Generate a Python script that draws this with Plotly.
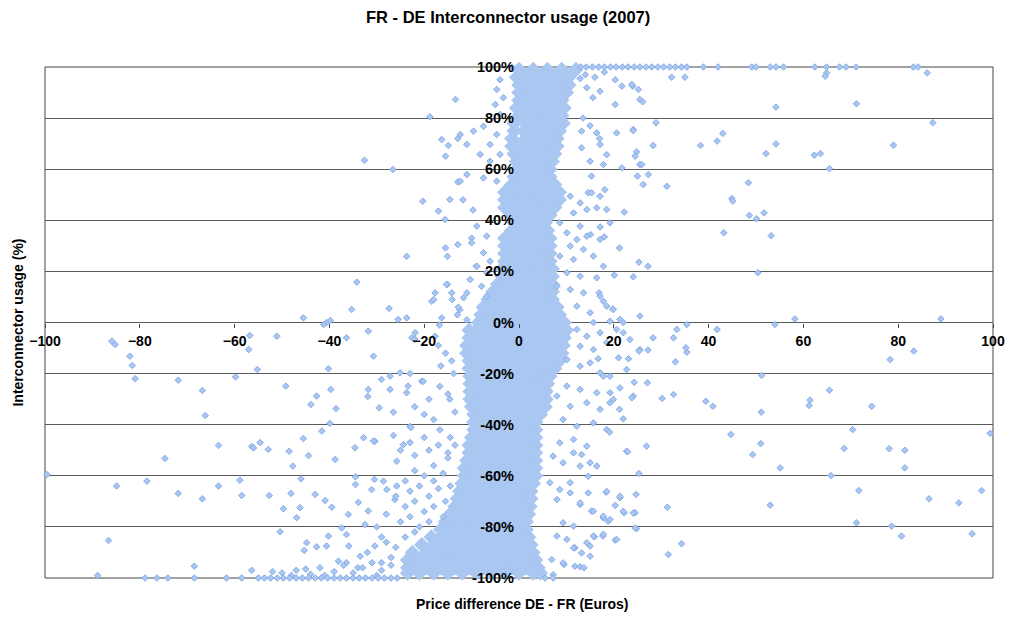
import plotly.graph_objects as go

# ---------------- data ----------------
# dense central band: one list of x positions per usage level (%)
core_levels = [99, 96, 93, 90, 87, 84, 81, 78, 75, 72, 69, 66, 63, 60, 57, 54, 51, 48, 45, 42,
               39, 36, 33, 30, 27, 24, 21, 18, 15, 12, 9, 6, 3, 0, -3, -6, -9, -12, -15, -18,
               -21, -24, -27, -30, -33, -36, -39, -42, -45, -48, -51, -54, -57, -60, -63, -66,
               -69, -72, -75, -78, -81, -84, -87, -90, -93, -96, -98]
core_rows = [
    [0, 3, 6, 9, 12],
    [-0.5, 1.5, 4.5, 7.5, 10.5],
    [0, 3, 6, 9, 10.5],
    [0, 1.5, 4.5, 7.5, 10],
    [0, 3, 6, 9],
    [-0.5, 1.5, 4.5, 7.5, 9.5],
    [0, 3, 6, 9],
    [-1, 1.5, 4.5, 7.5, 9.3],
    [-1, 1, 3, 6, 8.5],
    [-1.5, 1.5, 4.5, 7.5, 8],
    [-1.5, 0, 3, 6, 8],
    [-1, 1.5, 4.5, 7.5],
    [-0.5, 0, 3, 6, 7],
    [-0.5, 1.5, 4.5, 6.5],
    [-1, 0, 3, 6, 6.5],
    [-1.5, 1.5, 4.5, 7.5],
    [-3, 0, 3, 6, 8.5],
    [-3, -1.5, 1.5, 4.5, 7.5, 8.5],
    [-3, 0, 3, 6, 7.5],
    [-1.5, 1.5, 4.5, 6.5],
    [-1, 0, 3, 5.5],
    [-1.5, 1.5, 4.5, 6],
    [-3, 0, 3, 6, 6.5],
    [-3, -1.5, 1.5, 4.5, 6.5],
    [-3, 0, 3, 6, 6.5],
    [-3, -1.5, 1.5, 4.5, 6.5],
    [-3.5, -3, 0, 3, 6, 7],
    [-3.5, -1.5, 1.5, 4.5, 7],
    [-4.5, -3, 0, 3, 6, 7],
    [-5.5, -4.5, -1.5, 1.5, 4.5, 7],
    [-6.5, -6, -3, 0, 3, 6, 7],
    [-7.5, -4.5, -1.5, 1.5, 4.5, 7.5, 8],
    [-8, -6, -3, 0, 3, 6, 8.5],
    [-8.5, -7.5, -4.5, -1.5, 1.5, 4.5, 7.5, 9.5],
    [-10.5, -9, -6, -3, 0, 3, 6, 9, 10],
    [-10.5, -7.5, -4.5, -1.5, 1.5, 4.5, 7.5, 9.5],
    [-11, -9, -6, -3, 0, 3, 6, 9, 9.3],
    [-11, -10.5, -7.5, -4.5, -1.5, 1.5, 4.5, 7.5, 9],
    [-10.5, -9, -6, -3, 0, 3, 6, 8.5],
    [-10.5, -7.5, -4.5, -1.5, 1.5, 4.5, 7.5],
    [-10.3, -9, -6, -3, 0, 3, 6, 6.5],
    [-10.3, -7.5, -4.5, -1.5, 1.5, 4.5, 6],
    [-10.3, -9, -6, -3, 0, 3, 5.7],
    [-10.3, -7.5, -4.5, -1.5, 1.5, 4.5, 5.7],
    [-10, -9, -6, -3, 0, 3, 5.5],
    [-9.5, -7.5, -4.5, -1.5, 1.5, 4.5],
    [-9.5, -9, -6, -3, 0, 3, 3.5],
    [-9.5, -7.5, -4.5, -1.5, 1.5, 3.5],
    [-10, -9, -6, -3, 0, 3, 3.5],
    [-10.5, -7.5, -4.5, -1.5, 1.5, 3.5],
    [-10.5, -9, -6, -3, 0, 3, 3.5],
    [-11, -10.5, -7.5, -4.5, -1.5, 1.5, 3.5],
    [-11.5, -9, -6, -3, 0, 3, 3.5],
    [-11.5, -10.5, -7.5, -4.5, -1.5, 1.5, 3.5],
    [-12, -9, -6, -3, 0, 3],
    [-12.5, -10.5, -7.5, -4.5, -1.5, 1.5, 2.5],
    [-13, -12, -9, -6, -3, 0, 2.5],
    [-13.5, -10.5, -7.5, -4.5, -1.5, 1.5, 2.3],
    [-14.5, -12, -9, -6, -3, 0, 2],
    [-15.5, -13.5, -10.5, -7.5, -4.5, -1.5, 1.5],
    [-16.5, -15, -12, -9, -6, -3, 0, 1.5],
    [-18.5, -16.5, -13.5, -10.5, -7.5, -4.5, -1.5, 1.5, 2],
    [-20.5, -18, -15, -12, -9, -6, -3, 0, 2.5],
    [-22.5, -19.5, -16.5, -13.5, -10.5, -7.5, -4.5, -1.5, 1.5, 2.9],
    [-23.5, -21, -18, -15, -12, -9, -6, -3, 0, 3, 3.5],
    [-23.5, -22.5, -19.5, -16.5, -13.5, -10.5, -7.5, -4.5, -1.5, 1.5, 4],
    [-23.5, -21, -18, -15, -12, -9, -6, -3, 0, 3, 4.5],
]

# hours at full export (+100 %) and full import (-100 %)
top_row_x = [-1.5, 13, 14.2, 15.5, 16.8, 18, 19.3, 20.5, 21.8, 23, 24.3, 25.5, 26.8, 28, 29.3,
             30.5, 31.8, 33, 34.3, 35.4, 38.9, 42, 49.1, 50, 53, 54.2, 55.8, 62.4, 64.9,
             67.6, 69, 71.1, 83.2, 84.2]
bottom_row_x = [-78.9, -76.4, -74.1, -68.5, -61.7, -58.5, -55, -53.7, -52.4, -51, -49.7,
                -48.4, -47, -45.7, -44.4, -43, -41.7, -40.4, -39, -37.7, -36.4, -35, -33.7,
                -32.4, -31, -29.7, -28.4, -27, -25.7, 5.5, 7.2]

# remaining hours, (price difference, usage %) pairs
left_points = [
    (-99.6, -59.5), (-85.9, -7.3), (-85.2, -8.6), (-82.1, -13.2), (-81.6, -16.8), (-81, -22),
    (-71.9, -22.6), (-66.8, -26.6), (-66.2, -36.4), (-59.8, -21.3), (-56.8, -5.1), (-57, -10.6),
    (-55.2, -18.4), (-51.1, -5.4), (-49.2, -24.9), (-36.4, -6), (-31.8, -3.4), (-30.7, -13.2),
    (-40.2, -18.1), (-39.7, -26.2), (-38.6, -33.7), (-39.9, -39.5), (-42.7, -28.8), (-43.9, -32.1),
    (-41.6, -42.5), (-45.5, -45.4), (-63.4, -48.1), (-54.6, -47), (-56.4, -48.5), (-31.8, -26.2),
    (-31.9, -29), (-29.5, -33.4), (-26.5, -35.1), (-29, -22.3), (-27.2, -21), (-25.1, -19.7),
    (-27.2, -26.2), (-26.5, -44.2), (-32.8, -45.1), (-30.4, -46.5),
    (-84.9, -64), (-78.5, -62.1), (-74.7, -53.2), (-63.4, -64), (-71.9, -66.9), (-66.8, -69),
    (-58.9, -61.7), (-58.5, -67.7), (-52.7, -67.7), (-56, -49.1), (-52.9, -49.7), (-48.5, -50.4),
    (-47.7, -56.2), (-44.4, -52.1), (-48.1, -66.9), (-46, -61.2), (-49.7, -72.9), (-46.2, -72.5),
    (-46.9, -76.4), (-43, -67.3), (-40.9, -69.7), (-39.5, -72.3), (-38.8, -53.6), (-34.6, -49),
    (-86.6, -85.3), (-50.4, -81.9), (-44.8, -86.2), (-42.7, -87.8), (-45.3, -89.2), (-40.2, -83.6),
    (-40.6, -87.5), (-37.4, -80.4), (-36.4, -83), (-35.9, -87.5), (-38.1, -93.4), (-36.4, -94),
    (-33.9, -70.4), (-36, -75.1), (-31.8, -73.8), (-31.1, -65.4), (-34.5, -60.4), (-34.5, -63.4),
    (-30.5, -61.4), (-28.6, -62.1), (-27.9, -65.4), (-25.8, -64), (-26.2, -69.3), (-32.5, -79.1),
    (-30.4, -87.5), (-33.5, -91.5), (-30.7, -46.4), (-25.8, -54.3), (-68.5, -95.4),
    (-13.4, 87.3), (-18.8, 80.5), (-16.3, 71.6), (-14.9, 69.3), (-15.5, 65.1), (-12.9, 72),
    (-32.6, 63.5), (-26.6, 59.9), (-12.9, 55), (-20.3, 47.5), (-14.6, 48.1), (-17, 43.6),
    (-15.6, 40.3), (-12.9, 30.5), (-15.5, 29.2), (-15.1, 25.9), (-23.7, 25.9), (-34.2, 15.8),
    (-15.1, 14.9), (-17.7, 11.6), (-14.2, 11.6), (-18.4, 8.3), (-14.1, 9), (-35.3, 5.1),
    (-27.4, 5.5), (-45.5, 1.8), (-40.6, 0), (-39.8, 0.8), (-41.2, -0.8), (-25.5, 1.2),
    (-23.7, 1.8), (-16.8, -1), (-13, 3), (-12.5, 5), (-22.6, -6), (-21.9, -4), (-17.7, -5.4),
    (-22, -6.5), (-17, -9), (-15.5, -12), (-14.2, -15), (-16.5, -17), (-23, -20), (-20.5, -23),
    (-16.7, -25), (-15, -28), (-14.6, -30), (-23, -40.7), (-22, -33), (-20, -36), (-18, -38),
    (-16.7, -42), (-14.5, -45), (-13.5, -48), (-15, -51), (-20.2, -23), (-23.4, -24.9),
    (-23.7, -27.5), (-22.8, -41.1), (-24.4, -47.8), (-19, -30), (-13.5, -35), (-13.8, -20),
    (-24, -62), (-22, -58), (-20, -60), (-18, -56), (-16, -59), (-23, -66), (-21, -64), (-19, -68),
    (-17, -65), (-15.5, -70), (-24, -72), (-22, -70), (-20, -74), (-18, -72), (-16, -76), (-25, -78),
    (-23, -76), (-21, -80), (-19, -78), (-24, -84), (-22, -82), (-26, -88), (-27, -92), (-28, -86),
    (-25, -50), (-22, -52), (-19, -50), (-17, -48), (-15, -53), (-20, -45), (-23, -47), (-18, -62),
    (-14.5, -64), (-26, -68), (-28, -75), (-30, -80), (-29, -84), (-32, -90), (-29, -94), (-34, -96),
    (-50, -98), (-47, -97), (-44, -98.5), (-42, -96), (-39, -97.5), (-37, -95), (-35, -98),
    (-33, -96), (-31, -94), (-29, -97), (-27, -95), (-45, -96.5), (-52, -97.5), (-48, -99),
    (-41, -99), (-30, -99), (-88.9, -99), (-56.4, -97),
    (-4, 95), (-4.7, 91.2), (-3.3, 88), (-5, 85.3), (-4, 81.4), (-7.5, 76.8), (-9.6, 74.9),
    (-12.4, 73.6), (-11, 69.7), (-6.1, 69.7), (-4.7, 73.6), (-8.2, 65.8), (-6.1, 63.1), (-4, 65.8),
    (-12.4, 55.3), (-11, 57.9), (-7.5, 56.6), (-4.7, 55.3), (-11.8, 48), (-9.7, 44), (-10, 33),
    (-9, 22), (-8.9, 37.7), (-6.8, 33.8), (-10, 31.2), (-7.5, 27.3), (-6.1, 24), (-8.9, 22),
    (-6.8, 19.5), (-10.3, 16.8), (-7.9, 14.2), (-11, 11.6), (-6.8, 10.3), (-11.7, 9.7),
    (-12.8, 6), (-11, 1), (-16.3, 1.8), (-18, 9), (-15.3, 14.9),
]
right_points = [
    (14.3, 91.9), (17.1, 90.5), (15.6, 88), (20.3, 95), (21.7, 92.5), (24, 92.5), (25.2, 91.2),
    (20.3, 85.3), (25.5, 87.3), (13.5, 80), (15, 77), (17, 72), (13.2, 74.9), (16.4, 74.2),
    (18.5, 65.7), (20.6, 74.2), (24.1, 75.5), (17.1, 69.7), (15, 63.1), (17.8, 61.8), (21.7, 60.5),
    (25.5, 61.8), (27.3, 57.9), (15.3, 57.3), (13.2, 68.4), (14, 97), (16, 96), (18, 98), (12.9, 95.5),
    (32.2, 96), (35, 96), (23.8, 93.2), (26.1, 86.4), (64.9, 97.7), (64.6, 96.4), (86.1, 97.7),
    (54.2, 84.3), (71.2, 85.6), (87.3, 78.2), (28.9, 78.2), (24.1, 75.1), (28.3, 69.3), (24.8, 66.8),
    (24.5, 65.1), (25.9, 61.8), (38.3, 69.3), (41.8, 71), (43, 74), (52.1, 66.1), (54.2, 69.9),
    (62.3, 65.5), (63.6, 66.1), (65.5, 60.2), (79, 69.4), (25, 57.3), (26.2, 54), (31.2, 53.3),
    (48.4, 54.7), (44.9, 48.5),
    (14.6, 50.8), (18.1, 52), (45.1, 47.5), (48.6, 41.9), (50.1, 40.6), (51.7, 42.9), (43.2, 35.1),
    (53.2, 34), (22.2, 43.2), (16.4, 44.9), (19.2, 39), (17.1, 37.4), (18, 33.5), (21.2, 29.2),
    (15.1, 34.4), (25.3, 23.6), (27.2, 22), (50.4, 19.5), (20.1, 18.5), (24.1, 17.9), (16.9, 11.6),
    (17.8, 8.3), (19.8, 5.3), (15.7, 0), (19.2, 0.5), (22, 0), (58.2, 1.4), (89, 1.4), (35.4, -0.8),
    (41.8, -2.7), (54, -0.8), (33.3, -2.7),
    (10.8, 49.4), (12.9, 46.8), (11.5, 42.9), (14.3, 44.2), (8.6, 39), (12.9, 37.7), (17.1, 49.4),
    (18.5, 44.2), (15.3, 50.8), (10.1, 35.1), (12.2, 32.5), (14.3, 33.8), (10.8, 29.9), (13.6, 28.6),
    (17.1, 32.5), (8.6, 26), (11.5, 24.7), (15.7, 26), (17.8, 22), (10.1, 19.5), (12.9, 18.1),
    (16.4, 17.5), (8, 14.2), (10.8, 12.9), (13.6, 11.6), (17.1, 10.3), (18.5, 6.4), (12.2, 6.4),
    (15, 3.8), (19.9, 5.1), (21.3, 1.2), (25.5, 2.5),
    (12.2, -2.7), (14.3, -5.4), (17.1, -4), (12.9, -9.3), (15.7, -10.6), (18.5, -7.9), (20.6, -2.7),
    (22, -4), (23.4, -6.7), (25.5, -10.6), (10.1, -14.5), (12.9, -17.1), (15, -15.8), (17.1, -19.7),
    (19.2, -21), (22.7, -18.4), (10.1, -24.9), (12.9, -26.2), (16.4, -27.5), (8, -28.8),
    (10.8, -32.8), (14.3, -31.4), (17.1, -34), (19.9, -30.1), (24.1, -28.8), (9.3, -38),
    (12.2, -40.6), (15.7, -39.3), (18.5, -41.9), (8.6, -47.1), (11.5, -45.8), (14.3, -48.4),
    (22.7, -50.4), (26.9, -48.4),
    (83.3, -11.2), (78.3, -14.5), (33, -15.4), (35.4, -11.6), (35.2, -9.9), (32.6, -6), (28.3, -6),
    (27.2, -10.8), (25.3, -11.2), (23.1, -14.2), (21, -13.8), (16.7, -14.2), (17.8, -21),
    (51.2, -20.7), (65.5, -26.5), (61.4, -30.4), (61.2, -32.5), (74.4, -32.8), (51.1, -35.1),
    (39.4, -30.8), (40.9, -32.8), (30.2, -29.7), (32.6, -28.2), (27.1, -23.6), (24.3, -23.4),
    (23.8, -29.5), (21.3, -25.6), (19.2, -27.5), (19.2, -31.4), (21.2, -34), (22, -37.7),
    (19.1, -42.9), (44.7, -43.8), (70.4, -41.9), (68.6, -49.3), (78.1, -49.4), (81.4, -50),
    (81.4, -56.9), (99.4, -43.4), (51, -47.4), (49.3, -51.7), (55.1, -56.9), (65.8, -59.9),
    (71.7, -65.8), (97.6, -65.8), (86.5, -69), (92.8, -70.6), (53, -71.5), (31.3, -72.3),
    (71.2, -78.4), (78.6, -79.7), (80.7, -83.6), (95.6, -82.7), (34.3, -86.6), (31.5, -90.8),
    (25.3, -59.1), (24.7, -67.3), (24.5, -74.5), (24.8, -80.7), (21.3, -68.6), (22.2, -74.5),
    (20.3, -71.6), (18.4, -66.4), (17.7, -83.6), (15.9, -83.9), (20.3, -85.2), (22.9, -50.6),
    (14.6, -60.2), (12.9, -71.2), (15.3, -73.8), (17.8, -76.5), (18.8, -77.8), (15, -87.5),
    (14.3, -86.2), (11.8, -88.2), (11.8, -95.4), (12.9, -95.6), (13.7, -96), (9.5, -94.7),
    (7.2, -52.3), (9.3, -54.9), (11.5, -51), (13.2, -51.7), (15, -54.9), (16.4, -56.2),
    (12.9, -56.2), (6.5, -62.7), (8.6, -65.4), (10.8, -62.7), (8, -69.3), (10.8, -66.7),
    (12.9, -70.6), (14.6, -66.7), (18.5, -66.1), (21.3, -68), (15.7, -73.9), (17.8, -75.8),
    (19.2, -77.1), (22, -73.9), (24.1, -74.6), (24.5, -80.4), (9.3, -78.4), (11.5, -79.7),
    (8, -83.6), (10.1, -84.9), (15.7, -83.6), (17.8, -82.9), (20.6, -84.9), (11.5, -88.2),
    (13.2, -90.2), (15, -91.5), (9.3, -94.1), (6.9, -92.8), (7.2, -98.7),
]

x_ticks = [-100, -80, -60, -40, -20, 0, 20, 40, 60, 80, 100]
y_ticks = [-100, -80, -60, -40, -20, 0, 20, 40, 60, 80, 100]
y_ticktext = [f"{v}%" for v in y_ticks]

title_text = "FR - DE Interconnector usage (2007)"
x_title = "Price difference DE - FR (Euros)"
y_title = "Interconnector usage (%)"

# ---------------- build ----------------
core_x, core_y = [], []
for lvl, row in zip(core_levels, core_rows):
    for xv in row:
        core_x.append(xv)
        core_y.append(lvl)

pts = left_points + right_points
pt_x = [p[0] for p in pts] + top_row_x + bottom_row_x
pt_y = [p[1] for p in pts] + [100] * len(top_row_x) + [-100] * len(bottom_row_x)

FILL = "#A9C7F1"
EDGE = "#87ABE8"
FONT = "Liberation Sans, Arial, sans-serif"

fig = go.Figure()
fig.add_trace(go.Scatter(
    x=core_x, y=core_y, mode="markers", cliponaxis=False, hoverinfo="skip",
    marker=dict(symbol="diamond", size=12, color=FILL, line=dict(width=0)),
))
fig.add_trace(go.Scatter(
    x=pt_x, y=pt_y, mode="markers", cliponaxis=False,
    marker=dict(symbol="diamond", size=5, color=FILL, line=dict(width=1, color=EDGE)),
))

fig.update_layout(
    width=1009, height=617,
    margin=dict(l=45, r=16, t=67, b=39),
    paper_bgcolor="white", plot_bgcolor="white",
    showlegend=False,
    font=dict(family=FONT, color="black"),
    xaxis=dict(
        range=[-100, 100], domain=[0, 1], anchor="free", position=0.5,
        tickvals=x_ticks, ticks="outside", ticklen=4, tickcolor="#444444",
        showgrid=False, zeroline=False, showline=False, automargin=False,
        tickfont=dict(family=FONT, size=14, color="black", weight="bold"),
        ticklabelstandoff=2,
    ),
    yaxis=dict(
        range=[-100, 100], domain=[0, 1], anchor="free", position=0.5,
        tickvals=y_ticks, ticktext=y_ticktext, ticks="",
        showgrid=True, gridcolor="#5a5a5a", gridwidth=1,
        zeroline=False, showline=False, automargin=False,
        tickfont=dict(family=FONT, size=14.5, color="black", weight="bold"),
        ticklabelstandoff=5,
    ),
    shapes=[dict(type="rect", xref="paper", yref="paper", x0=0, x1=1, y0=0, y1=1,
                 line=dict(color="#444444", width=1), layer="below")],
    annotations=[
        dict(text=f"<b>{title_text}</b>", xref="paper", yref="paper", x=0.488, y=1.098,
             xanchor="center", yanchor="middle", showarrow=False,
             font=dict(family=FONT, size=16.5, color="black")),
        dict(text=f"<b>{x_title}</b>", xref="paper", yref="paper", x=0.503, y=-0.051,
             xanchor="center", yanchor="middle", showarrow=False,
             font=dict(family=FONT, size=14, color="black")),
        dict(text=f"<b>{y_title}</b>", xref="paper", yref="paper", x=-0.0295, y=0.5,
             xanchor="center", yanchor="middle", showarrow=False, textangle=-90,
             font=dict(family=FONT, size=14, color="black")),
    ],
)

fig.write_html("out.html")
